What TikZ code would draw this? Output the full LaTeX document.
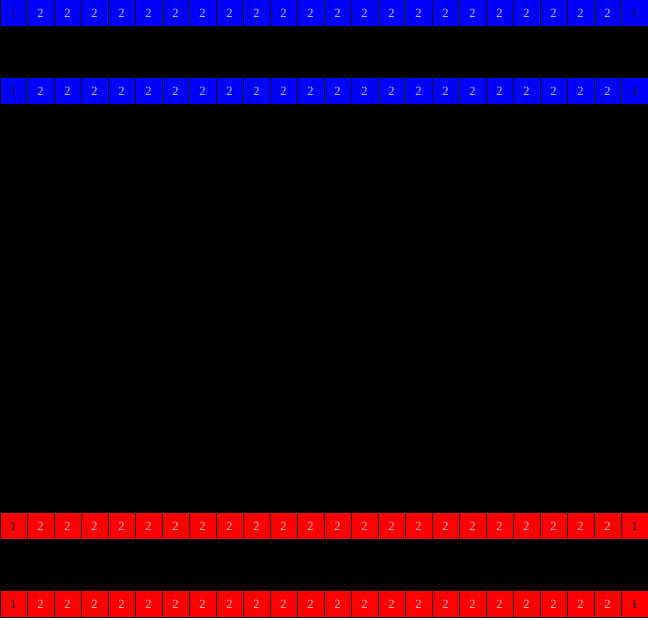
\documentclass[tikz,border=0pt]{standalone}
\usepackage{fontspec}
\setmainfont{Liberation Serif}
\begin{document}
\begin{tikzpicture}[x=1pt,y=-1pt,
  cell/.style={draw=none,minimum width=26pt,minimum height=26pt,inner sep=0pt,font=\fontsize{12.5}{12.5}\selectfont},
  bluecell/.style={cell,fill={rgb,255:red,0;green,0;blue,255}},
  redcell/.style={cell,fill={rgb,255:red,255;green,0;blue,0}},
  endtxt/.style={text=black},
  midtxt/.style={text=white,text opacity=0.8}]
\fill[black] (0,0) rectangle (648,618);
\useasboundingbox (0,0) rectangle (648,618);
\foreach \r/\yc/\st in {1/13/bluecell,2/91/bluecell,3/526/redcell,4/604/redcell}{
  \foreach \i in {0,...,23}{
    \pgfmathtruncatemacro{\isend}{(\i==0)||(\i==23)}
    \ifnum\isend=1
      \node[\st,endtxt] (c\r-\i) at ({27*\i+13.5},\yc) {1};
    \else
      \node[\st,midtxt] (c\r-\i) at ({27*\i+13.5},\yc) {2};
    \fi
  }
}
\end{tikzpicture}
\end{document}
